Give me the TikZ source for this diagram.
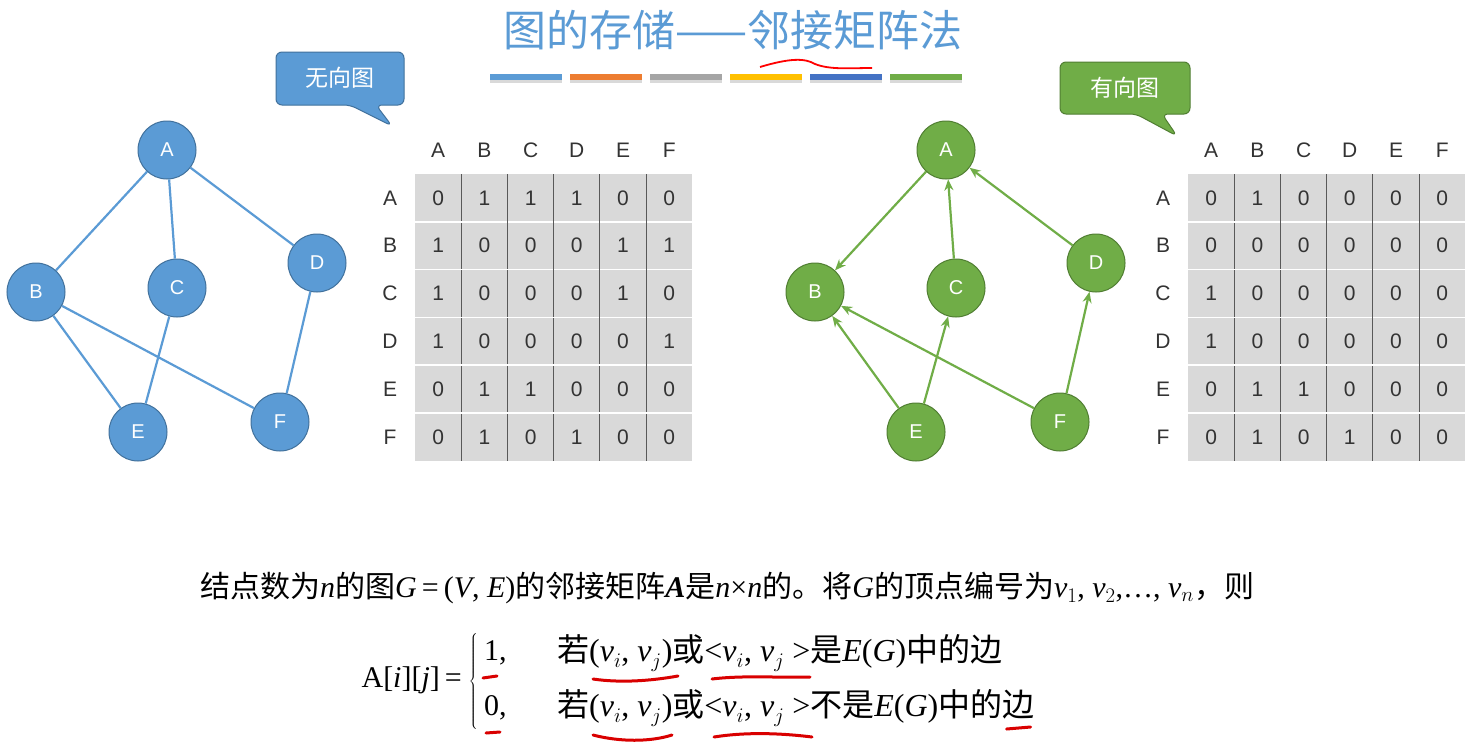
\documentclass[tikz,border=0pt]{standalone}
\usepackage{fontspec}
\setmainfont{Liberation Serif}
\newfontfamily\cjk{Noto Sans CJK SC}
\newfontfamily\sans{Liberation Sans}
\usetikzlibrary{arrows.meta}
\definecolor{bl}{HTML}{5B9BD5}\definecolor{bld}{HTML}{41719C}
\definecolor{gr}{HTML}{70AD47}\definecolor{grd}{HTML}{507E32}
\definecolor{cell}{HTML}{D9D9D9}
\tikzset{
 bnode/.style={circle,fill=bl,draw=bld,line width=1pt,minimum size=58pt,inner sep=0pt,text=white,font=\sans\fontsize{20}{20}\selectfont},
 gnode/.style={bnode,fill=gr,draw=grd},
 bedge/.style={bl,line width=2.2pt},
 gedge/.style={gr,line width=2.2pt,-{Stealth[length=11pt,width=9pt]}},
 lab/.style={font=\sans\fontsize{21}{21}\selectfont,text=black!80},
 redm/.style={red!85!black,line width=3pt,line cap=round},
 ftxt/.style={anchor=west,font=\fontsize{30}{30}\selectfont,inner sep=0pt},
 rtxt/.style={anchor=west,font=\fontsize{32}{32}\selectfont,inner sep=0pt},
}
\newcommand{\mtx}[3]{% x0, rows, name
 \fill[cell] (#1,174) rectangle (#1+277,461);
 \foreach \i in {1,...,5}{\draw[black!65,line width=1pt] (#1+\i*46.2,174) -- (#1+\i*46.2,461);
   \draw[white,line width=1.5pt] (#1,174+\i*47.8) -- (#1+277,174+\i*47.8);}
 \foreach \l [count=\k] in {A,B,C,D,E,F}{
   \node[lab] (#3h\l) at (#1-23+\k*46.2,150) {\l};
   \node[lab] (#3r\l) at (#1-25,150+\k*47.8) {\l};}
 \foreach \row [count=\r] in {#2}{
   \foreach \v [count=\c] in \row {\node[lab] (#3c\r\c) at (#1-23+\c*46.2,150+\r*47.8) {\v};}}
}
\newcommand{\zh}[1]{{\cjk #1}}
\begin{document}
\begin{tikzpicture}[x=1pt,y=-1pt]
\useasboundingbox (0,0) rectangle (1477,745);
\fill[white] (0,0) rectangle (1477,745);
% title
\node[font=\cjk\fontsize{43}{43}\selectfont,text=bl] (title) at (733,30) {图的存储——邻接矩阵法};
\draw[red,line width=1.8pt] (760,67) .. controls (790,58) and (805,58) .. (815,64) .. controls (830,70) and (850,68) .. (872,68);
\foreach \c [count=\k] in {5B9BD5,ED7D31,A5A5A5,FFC000,4472C4,70AD47}{
  \definecolor{bar}{HTML}{\c}
  \fill[black!15] (490+\k*80-80,79) rectangle (562+\k*80-80,83);
  \fill[bar] (490+\k*80-80,74) rectangle (562+\k*80-80,80);}
% callouts
\fill[bl,draw=bld,line width=1pt,rounded corners=6pt] (276,52) -- (404,52) -- (404,105) -- (376,105) -- (392,126) -- (350,105) -- (276,105) -- cycle;
\node[font=\cjk\fontsize{23}{23}\selectfont,text=white] (c1) at (340,78) {无向图};
\fill[gr,draw=grd,line width=1pt,rounded corners=6pt] (1060,62) -- (1190,62) -- (1190,114) -- (1162,114) -- (1177,136) -- (1136,114) -- (1060,114) -- cycle;
\node[font=\cjk\fontsize{23}{23}\selectfont,text=white] (c2) at (1125,88) {有向图};
% left graph
\node[bnode] (A) at (167,150) {A};
\node[bnode] (B) at (36,292) {B};
\node[bnode] (C) at (177,288) {C};
\node[bnode] (D) at (317,263) {D};
\node[bnode] (E) at (138,432) {E};
\node[bnode] (F) at (280,422) {F};
\draw[bedge] (A)--(B) (A)--(C) (A)--(D) (B)--(E) (B)--(F) (C)--(E) (D)--(F);
% right graph
\node[gnode] (A2) at (946,150) {A};
\node[gnode] (B2) at (815,292) {B};
\node[gnode] (C2) at (956,288) {C};
\node[gnode] (D2) at (1096,263) {D};
\node[gnode] (E2) at (916,432) {E};
\node[gnode] (F2) at (1060,422) {F};
\draw[gedge] (A2)--(B2);\draw[gedge] (C2)--(A2);\draw[gedge] (D2)--(A2);
\draw[gedge] (E2)--(B2);\draw[gedge] (E2)--(C2);\draw[gedge] (F2)--(B2);\draw[gedge] (F2)--(D2);
% matrices
\mtx{415}{{0,1,1,1,0,0},{1,0,0,0,1,1},{1,0,0,0,1,0},{1,0,0,0,0,1},{0,1,1,0,0,0},{0,1,0,1,0,0}}{L}
\mtx{1188}{{0,1,0,0,0,0},{0,0,0,0,0,0},{1,0,0,0,0,0},{1,0,0,0,0,0},{0,1,1,0,0,0},{0,1,0,1,0,0}}{R}
% text
\node[ftxt] (t1) at (200,588) {\zh{结点数为}\textit{n}\zh{的图}\textit{G}\,=\,(\textit{V}, \textit{E})\zh{的邻接矩阵}\textbf{\textit{A}}\zh{是}\textit{n}×\textit{n}\zh{的。将}\textit{G}\zh{的顶点编号为}\textit{v}$_1$, \textit{v}$_2$,…, \textit{v}$_n$\zh{，则}};
\node[ftxt,anchor=east] (lhs) at (462,680) {A[\textit{i}][\textit{j}]\,=};
\node[font=\fontsize{26}{26}\selectfont,inner sep=0pt] (br) at (474,681) {$\left\{\rule{0pt}{54pt}\right.$};
\node[ftxt] (r1) at (484,653) {1,};
\node[ftxt] (r2) at (484,708) {0,};
\node[rtxt] (r1b) at (557,653) {\zh{若}(\textit{v}$_i$, \textit{v}$_j$)\zh{或}<\textit{v}$_i$, \textit{v}$_j$ >\zh{是}\textit{E}(\textit{G})\zh{中的边}};
\node[rtxt] (r2b) at (557,708) {\zh{若}(\textit{v}$_i$, \textit{v}$_j$)\zh{或}<\textit{v}$_i$, \textit{v}$_j$ >\zh{不是}\textit{E}(\textit{G})\zh{中的边}};
% red marks
\draw[redm] (483,678) -- (497,676);
\draw[redm] (486,733) -- (500,732);
\draw[redm] (593,679) .. controls (620,683) and (650,681) .. (678,676);
\draw[redm] (712,679) .. controls (745,675) and (780,678) .. (810,677);
\draw[redm] (593,735) .. controls (620,742) and (650,742) .. (672,735);
\draw[redm] (714,737) .. controls (745,732) and (780,733) .. (812,737);
\draw[redm] ([xshift=-28pt,yshift=-21pt]r2b.east) -- ++(24,-2);
\end{tikzpicture}
\end{document}
